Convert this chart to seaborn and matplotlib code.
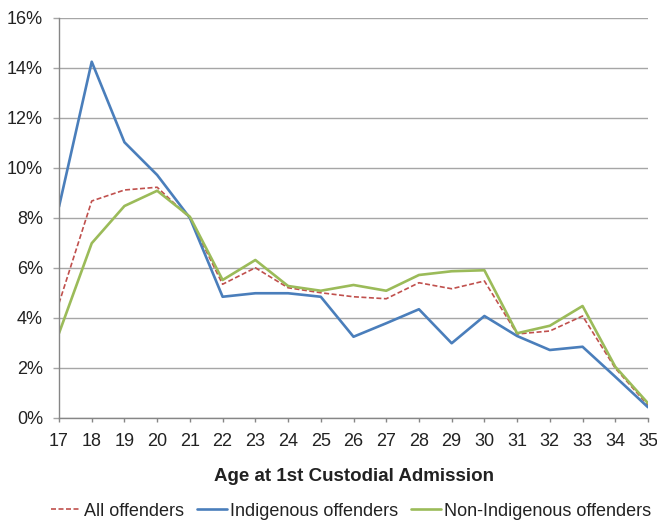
import matplotlib
matplotlib.use("Agg")
import matplotlib.pyplot as plt
from matplotlib.ticker import FuncFormatter
import seaborn as sns
import pandas as pd

# Share of first custodial admissions by age (%)
ages = list(range(17, 36))
all_offenders = [4.59, 8.68, 9.12, 9.23, 8.00, 5.35, 6.01, 5.21, 5.01, 4.85,
                 4.77, 5.41, 5.17, 5.48, 3.36, 3.48, 4.08, 1.99, 0.51]
indigenous = [8.45, 14.25, 11.03, 9.72, 8.00, 4.85, 4.99, 4.99, 4.85, 3.25,
              3.79, 4.35, 2.99, 4.08, 3.28, 2.72, 2.85, 1.65, 0.43]
non_indigenous = [3.39, 6.99, 8.48, 9.09, 8.05, 5.52, 6.32, 5.28, 5.09, 5.32,
                  5.09, 5.72, 5.87, 5.91, 3.39, 3.69, 4.48, 2.05, 0.59]
series_names = ["All offenders", "Indigenous offenders", "Non-Indigenous offenders"]
y_ticks = [0, 2, 4, 6, 8, 10, 12, 14, 16]

frames = []
for name, vals in zip(series_names, [all_offenders, indigenous, non_indigenous]):
    frames.append(pd.DataFrame({"age": ages, "pct": vals, "group": name}))
df = pd.concat(frames, ignore_index=True)

sns.set_theme(style="white")
plt.rcParams["font.family"] = ["Liberation Sans", "DejaVu Sans"]

fig = plt.figure(figsize=(6.57, 5.2), dpi=100)
ax = fig.add_axes([59 / 657, 1 - 418 / 520, 589 / 657, 400 / 520])

palette = {"All offenders": "#C0504D",
           "Indigenous offenders": "#4A7EBB",
           "Non-Indigenous offenders": "#9BBB59"}
dash_all = (3, 1.5)
sns.lineplot(data=df, x="age", y="pct", hue="group", palette=palette,
             style="group",
             dashes={"All offenders": dash_all,
                     "Indigenous offenders": "",
                     "Non-Indigenous offenders": ""},
             ax=ax, legend=False)

widths = {"All offenders": 1.2, "Indigenous offenders": 1.9,
          "Non-Indigenous offenders": 1.9}
for line, name in zip(ax.get_lines(), series_names):
    line.set_linewidth(widths[name])

ax.set_xlim(17, 35)
ax.set_ylim(0, 16)
ax.set_xticks(ages)
ax.set_xticklabels([str(a) for a in ages])
ax.set_yticks(y_ticks)
ax.yaxis.set_major_formatter(FuncFormatter(lambda v, p: f"{v:.0f}%"))

ax.grid(axis="y", color="#A6A6A6", linewidth=1.0)
ax.grid(axis="x", visible=False)
ax.set_axisbelow(True)
for side in ["top", "right"]:
    ax.spines[side].set_visible(False)
for side in ["left", "bottom"]:
    ax.spines[side].set_color("#868686")
    ax.spines[side].set_linewidth(1.0)

ax.tick_params(axis="x", direction="out", length=3, width=1, color="#868686",
               pad=8, labelsize=13, labelcolor="#222222", bottom=True)
ax.tick_params(axis="y", direction="out", length=4.5, width=1, color="#A6A6A6",
               pad=7, labelsize=13, labelcolor="#222222", left=True)

ax.set_xlabel("Age at 1st Custodial Admission", fontsize=13.5,
              fontweight="bold", color="#222222", labelpad=13)
ax.set_ylabel("")

handles = [plt.Line2D([], [], color=palette[n], linewidth=widths[n],
                      linestyle=(0, dash_all) if n == "All offenders" else "-")
           for n in series_names]
fig.legend(handles, series_names, loc="center", bbox_to_anchor=(351 / 657, 1 - 511 / 520),
           ncol=3, frameon=False, fontsize=13, handlelength=1.67,
           handletextpad=0.17, columnspacing=0.7, labelcolor="#222222",
           borderaxespad=0, borderpad=0)

fig.savefig("out.png", dpi=100)
